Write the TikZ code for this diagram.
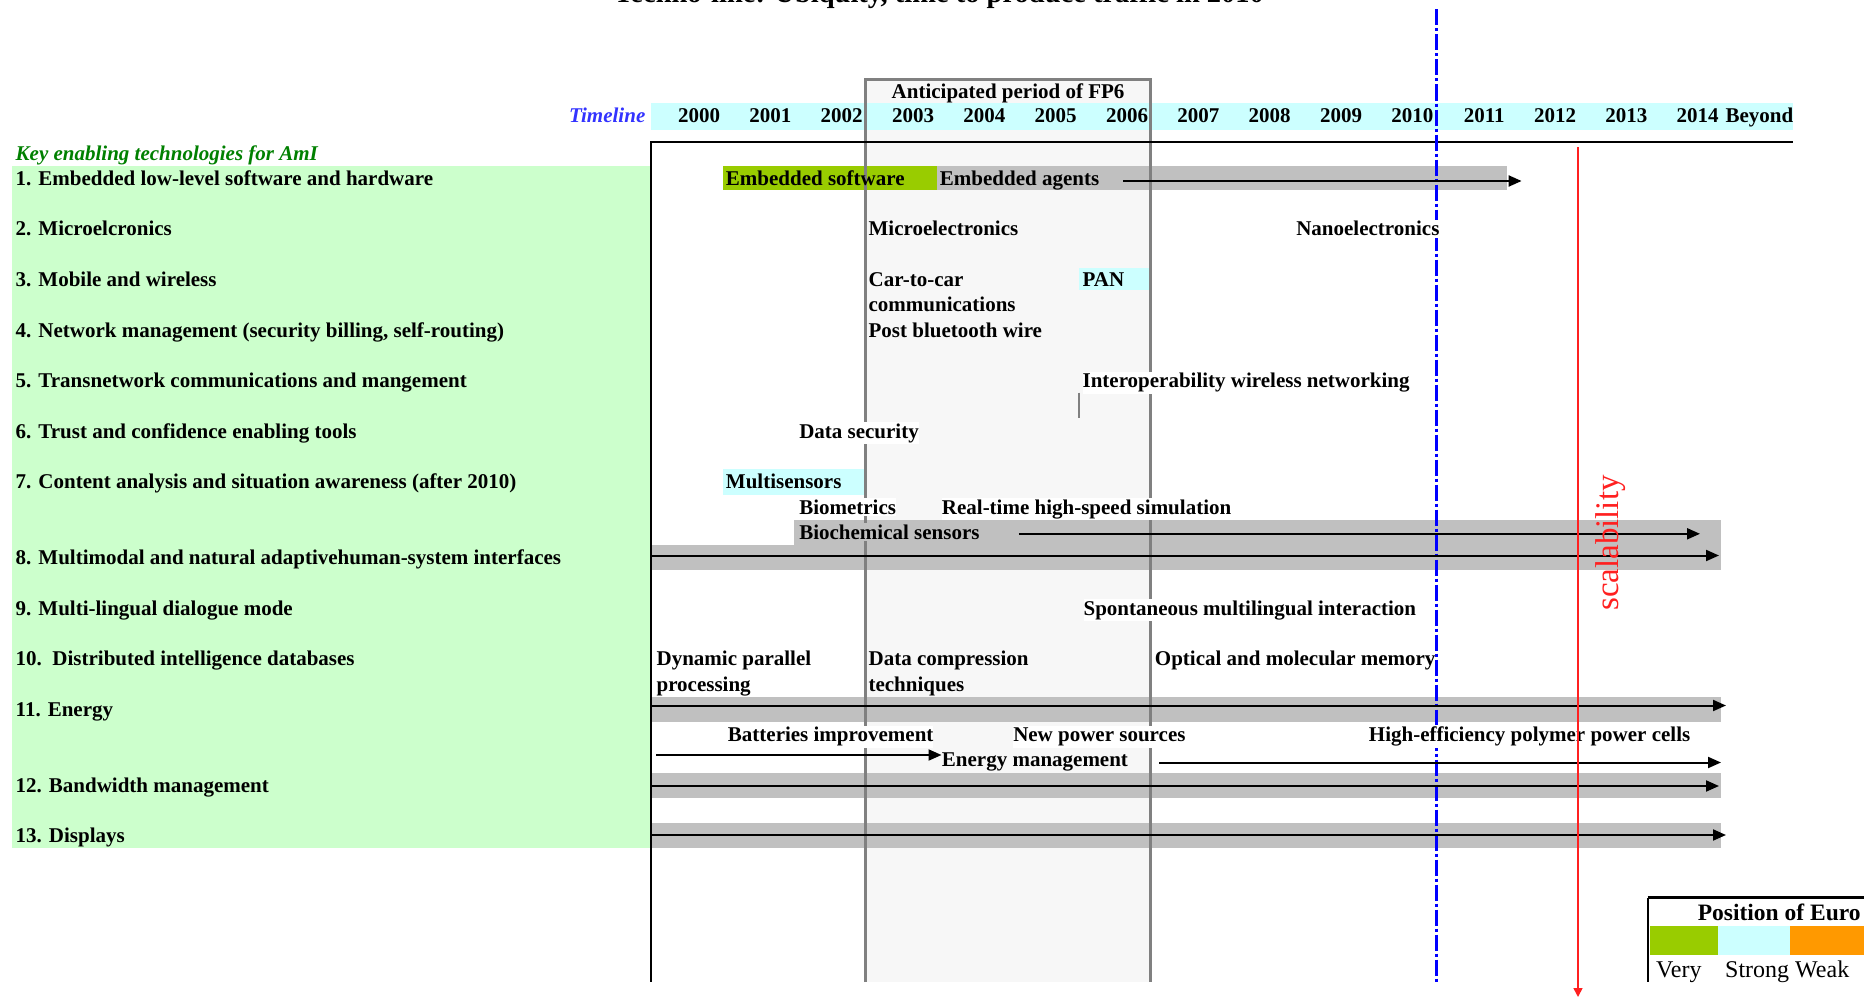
\documentclass[tikz,border=0pt]{standalone}
\usepackage{fontspec}
\setmainfont{Liberation Serif}
\usetikzlibrary{arrows.meta}
\definecolor{keygreen}{HTML}{CCFFCC}
\definecolor{tlcyan}{HTML}{CCFFFF}
\definecolor{esgreen}{HTML}{99CC00}
\definecolor{bandgrey}{HTML}{C0C0C0}
\definecolor{fpfill}{HTML}{F7F7F7}
\definecolor{fpline}{HTML}{808080}
\definecolor{legorange}{HTML}{FF9900}
\definecolor{titlegreen}{HTML}{008000}
\definecolor{tlblue}{HTML}{3333FF}
\definecolor{scalred}{HTML}{FF2020}
\begin{document}
\begin{tikzpicture}[x=1pt,y=-1pt,
  declare function={X(\k)=651.4+71.33*\k; Y(\i)=178.3+25.29*\i;},
  lbl/.style={font=\fontsize{21}{25}\selectfont\bfseries, inner xsep=0pt, inner ysep=1.5pt, anchor=base west},
  lble/.style={lbl, anchor=base east},
  wbg/.style={fill=white},
  leg/.style={font=\fontsize{24}{28}\selectfont, inner sep=0pt, anchor=base west},
  arr/.style={line width=2pt, -{Triangle[length=13pt,width=11pt]}},
  band/.style={fill=bandgrey},
  fpl/.style={draw=fpline, line width=3pt},
  frame/.style={line width=2pt, black}]
\useasboundingbox (0,0) rectangle (1864,998);
\fill[white] (0,0) rectangle (1864,998);

% title (cut by the page edge, as in the reference)
\node[font=\fontsize{28.5}{32}\selectfont\bfseries, inner sep=0pt, anchor=base] (title) at (939,3) {Techno-line: Ubiquity, time to produce traffic in 2010};

% backgrounds
\fill[keygreen] (12,166.4) rectangle (651.4,847.6);
\fill[fpfill] ({X(3)},79.6) rectangle ({X(7)},982);
\fill[tlcyan] (651.4,103.4) rectangle ({X(16)},129.6);

% bands and coloured cells
\fill[esgreen] ({X(1)},{Y(0)-12}) rectangle ({X(4)},{Y(0)+12});
\fill[band] ({X(4)},{Y(0)-12}) rectangle ({X(12)},{Y(0)+12});
\fill[tlcyan] ({X(6)},{Y(4)-11}) rectangle ({X(7)},{Y(4)+11});
\fill[tlcyan] ({X(1)},{Y(12)-13}) rectangle ({X(3)},{Y(12)+13});
\fill[band] ({X(2)},{Y(14)-12.6}) rectangle ({X(15)},{Y(14)+12.6});
\fill[band] ({X(0)},{Y(15)-12.6}) rectangle ({X(15)},{Y(15)+12.6});
\fill[band] ({X(0)},{Y(21)-12.6}) rectangle ({X(15)},{Y(21)+12.6});
\fill[band] ({X(0)},{Y(24)-12.6}) rectangle ({X(15)},{Y(24)+12.6});
\fill[band] ({X(0)},{Y(26)-12.6}) rectangle ({X(15)},{Y(26)+12.6});

% FP6 box
\coordinate (fpbl) at ({X(3)},982);
\coordinate (fptl) at ({X(3)},79.6);
\coordinate (fptr) at ({X(7)},79.6);
\coordinate (fpbr) at ({X(7)},982);
\draw[fpl] (fpbl) -- (fptl) -- (fptr) -- (fpbr);
\coordinate (tick1) at ({X(6)},392.5);
\coordinate (tick2) at ({X(6)},418);
\draw[fpline, line width=2pt] (tick1) -- (tick2);

% frame
\coordinate (fr0) at ({X(0)},141.5);
\coordinate (fr1) at ({X(16)},141.5);
\coordinate (fr2) at ({X(0)},982);
\draw[frame] (fr1) -- (fr0) -- (fr2);

% blue 2010 line
\coordinate (bt) at ({X(11)},9.5);
\coordinate (bb) at ({X(11)},982);
\draw[blue, line width=3pt, dash pattern=on 16pt off 3pt on 3pt off 3pt] (bt) -- (bb);

% timeline header
\node[lble, text=tlblue, font=\fontsize{21}{25}\selectfont\bfseries\itshape] (tl) at (645.5,122.3) {Timeline};
\foreach \k in {0,...,14}
  \node[lble] (yr\k) at ({X(\k+1)-2.5},122.3) {\the\numexpr2000+\k\relax};
\node[lbl] (yrb) at ({X(15)+4},122.3) {Beyond};
\node[lbl, anchor=base] (fp6) at ({(X(3)+X(7))/2},98.5) {Anticipated period of FP6};

% row labels
\node[lbl, text=titlegreen, font=\fontsize{21}{25}\selectfont\bfseries\itshape] (key) at (15.5,{Y(-1)+7}) {Key enabling technologies for AmI};
\node[lbl] (r1) at (15.5,{Y(0)+7}) {1. Embedded low-level software and hardware};
\node[lbl] (r2) at (15.5,{Y(2)+7}) {2. Microelcronics};
\node[lbl] (r3) at (15.5,{Y(4)+7}) {3. Mobile and wireless};
\node[lbl] (r4) at (15.5,{Y(6)+7}) {4. Network management (security billing, self-routing)};
\node[lbl] (r5) at (15.5,{Y(8)+7}) {5. Transnetwork communications and mangement};
\node[lbl] (r6) at (15.5,{Y(10)+7}) {6. Trust and confidence enabling tools};
\node[lbl] (r7) at (15.5,{Y(12)+7}) {7. Content analysis and situation awareness (after 2010)};
\node[lbl] (r8) at (15.5,{Y(15)+7}) {8. Multimodal and natural adaptivehuman-system interfaces};
\node[lbl] (r9) at (15.5,{Y(17)+7}) {9. Multi-lingual dialogue mode};
\node[lbl] (r10) at (15.5,{Y(19)+7}) {10.\ \ Distributed intelligence databases};
\node[lbl] (r11) at (15.5,{Y(21)+7}) {11. Energy};
\node[lbl] (r12) at (15.5,{Y(24)+7}) {12. Bandwidth management};
\node[lbl] (r13) at (15.5,{Y(26)+7}) {13. Displays};

% chart texts
\node[lbl] (t1) at ({X(1)+3},{Y(0)+7}) {Embedded software};
\node[lbl] (t2) at ({X(4)+3},{Y(0)+7}) {Embedded agents};
\node[lbl] (t3) at ({X(3)+3},{Y(2)+7}) {Microelectronics};
\node[lble, wbg] (t4) at (1439.6,{Y(2)+7}) {Nanoelectronics};
\node[lbl] (t5) at ({X(3)+3},{Y(4)+7}) {Car-to-car};
\node[lbl] (t6) at ({X(6)+3},{Y(4)+7}) {PAN};
\node[lbl] (t7) at ({X(3)+3},{Y(5)+7}) {communications};
\node[lbl] (t8) at ({X(3)+3},{Y(6)+7}) {Post bluetooth wire};
\node[lbl, wbg] (t9) at ({X(6)+3},{Y(8)+7}) {Interoperability wireless networking};
\node[lbl, wbg] (t10) at ({X(2)+5},{Y(10)+7}) {Data security};
\node[lbl] (t11) at ({X(1)+3},{Y(12)+7}) {Multisensors};
\node[lbl, wbg] (t12) at ({X(2)+5},{Y(13)+7}) {Biometrics};
\node[lbl, wbg] (t13) at ({X(4)+5},{Y(13)+7}) {Real-time high-speed simulation};
\node[lbl, fill=bandgrey] (t14) at ({X(2)+5},{Y(14)+7}) {Biochemical sensors};
\node[lbl, wbg] (t15) at ({X(6)+4},{Y(17)+7}) {Spontaneous multilingual interaction};
\node[lbl] (t16) at ({X(0)+5},{Y(19)+7}) {Dynamic parallel};
\node[lbl] (t17) at ({X(0)+5},{Y(20)+7}) {processing};
\node[lbl] (t18) at ({X(3)+3},{Y(19)+7}) {Data compression};
\node[lbl] (t19) at ({X(3)+3},{Y(20)+7}) {techniques};
\node[lbl, wbg] (t20) at ({X(7)+4},{Y(19)+7}) {Optical and molecular memory};
\node[lbl, wbg] (t21) at ({X(1)+5},{Y(22)+7}) {Batteries improvement};
\node[lbl, wbg] (t22) at ({X(5)+5},{Y(22)+7}) {New power sources};
\node[lbl, wbg] (t23) at ({X(10)+4},{Y(22)+7}) {High-efficiency polymer power cells};
\node[lbl] (t24) at ({X(4)+5},{Y(23)+7}) {Energy management};

% arrows
\coordinate (a1s) at (1123.4,181);  \coordinate (a1e) at (1521.6,181);
\coordinate (a2s) at (1018.8,533.8); \coordinate (a2e) at (1700,533.8);
\coordinate (a3s) at ({X(0)},555.5); \coordinate (a3e) at (1719,555.5);
\coordinate (a4s) at ({X(0)},705.5); \coordinate (a4e) at (1726,705.5);
\coordinate (a5s) at (656.2,755);   \coordinate (a5e) at (941.5,755);
\coordinate (a6s) at (1159,762.5);  \coordinate (a6e) at (1721,762.5);
\coordinate (a7s) at ({X(0)},786);  \coordinate (a7e) at (1719,786);
\coordinate (a8s) at ({X(0)},835);  \coordinate (a8e) at (1726,835);
\foreach \a in {1,...,8} \draw[arr] (a\a s) -- (a\a e);

% scalability
\coordinate (rs) at (1578,147.4);
\coordinate (re) at (1578,997);
\draw[scalred, line width=1.6pt, -{Triangle[length=9pt,width=9pt]}] (rs) -- (re);
\node[rotate=90, text=scalred, font=\fontsize{33}{36}\selectfont, inner sep=0pt] (scal) at (1611,543) {scalability};

% legend
\coordinate (lg0) at (1647.7,897.5);
\coordinate (lg1) at (1870,897.5);
\coordinate (lg2) at (1647.7,982);
\draw[line width=3pt] (lg0) -- (lg1);
\draw[line width=2pt] (lg0) -- (lg2);
\fill[esgreen] (1650,926) rectangle (1717.8,954.6);
\fill[tlcyan] (1717.8,926) rectangle (1790.3,954.6);
\fill[legorange] (1790.3,926) rectangle (1870,954.6);
\node[leg, font=\fontsize{23.5}{28}\selectfont\bfseries] (lgt) at (1697.6,920) {Position of Euro};
\node[leg] (lv) at (1656,977) {Very};
\node[leg] (ls) at (1725,977) {Strong};
\node[leg] (lw) at (1795,977) {Weak};
\end{tikzpicture}
\end{document}
